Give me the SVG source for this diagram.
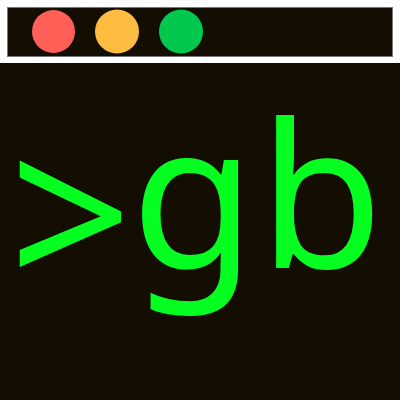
<svg xmlns="http://www.w3.org/2000/svg" width="400" height="400" viewBox="0 0 400 400">
<style>
.bg{fill:#140e02}
.t{font-family:"Noto Sans",sans-serif;font-size:202px;fill:#05ff20}
</style>
<rect width="400" height="400" fill="#ffffff"/>
<g id="titlebar">
<rect class="bg" x="7.5" y="7.5" width="385" height="49" stroke="#777" stroke-width="1"/>
<circle cx="53.5" cy="31.5" r="21.5" fill="#fe5f57"/>
<circle cx="117" cy="31.5" r="22" fill="#febc40"/>
<circle cx="181" cy="31.5" r="22" fill="#00c84f"/>
</g>
<g id="screen">
<rect class="bg" x="0" y="63" width="400" height="337"/>
<text class="t" y="268"><tspan x="9" y="292" font-size="215">&gt;</tspan><tspan x="131" y="268">g</tspan><tspan x="259" y="268">b</tspan></text>
</g>
</svg>
